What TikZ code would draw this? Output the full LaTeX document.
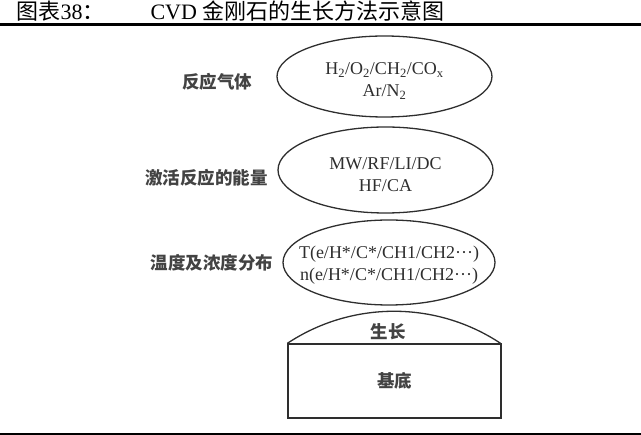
\documentclass[tikz,border=0pt]{standalone}
\usepackage{fontspec}
\setmainfont{Liberation Serif}
\newfontfamily\cjk{Noto Sans CJK SC}
\usetikzlibrary{shapes.geometric}
\definecolor{ink}{HTML}{2E2E2E}
\tikzset{
  zone/.style={ellipse, draw=ink, line width=1.3pt, inner sep=0pt},
  zonetext/.style={align=center, text=ink, inner sep=0pt, font=\fontsize{18}{22}\selectfont},
  tag/.style={text=ink!90, font=\cjk\bfseries\fontsize{17.5}{20}\selectfont},
  headline/.style={anchor=base west, text=black, font=\fontsize{22}{24}\selectfont}
}
\begin{document}
\begin{tikzpicture}[x=1pt,y=-1pt]
	\useasboundingbox (0,0) rectangle (641,435);
	\node[headline] (fignum) at (13,20) {{\cjk 图表}38{\cjk ：}};
	\node[headline] (title) at (147,20) {CVD {\cjk 金刚石的生长方法示意图}};
	\draw[line width=3pt] (0,24.5) -- (641,24.5);
	\draw[line width=2pt] (0,434) -- (641,434);
	% three stages
	\node[zone, minimum width=215pt, minimum height=81pt] (gas) at (384.5,76.5) {};
	\node[zone, minimum width=215pt, minimum height=86pt] (energy) at (385.5,170) {};
	\node[zone, minimum width=212pt, minimum height=85pt] (field) at (389,262.5) {};
	\node[zonetext] (gastext) at ([yshift=-4.5pt]gas.center) {H\textsubscript{2}/O\textsubscript{2}/CH\textsubscript{2}/CO\textsubscript{x}\\Ar/N\textsubscript{2}};
	\node[zonetext] (energytext) at ([yshift=-4.5pt]energy.center) {MW/RF/LI/DC\\HF/CA};
	\node[zonetext] (fieldtext) at ([yshift=-3pt]field.center) {T(e/H*/C*/CH1/CH2···)\\n(e/H*/C*/CH1/CH2···)};
	\node[tag] (gaslbl) at (217,82) {反应气体};
	\node[tag] (energylbl) at (206.5,178) {激活反应的能量};
	\node[tag] (fieldlbl) at (212,263) {温度及浓度分布};
	% substrate
	\node[draw=ink, line width=1.3pt, minimum width=213pt, minimum height=74pt, inner sep=0pt, tag] (base) at (394.5,381) {基底};
	\draw[ink, line width=1.3pt] (base.north west) arc[start angle=236.5, end angle=303.5, radius=193.2];
	\node[tag] (growth) at (388,332) {生长};
\end{tikzpicture}
\end{document}
